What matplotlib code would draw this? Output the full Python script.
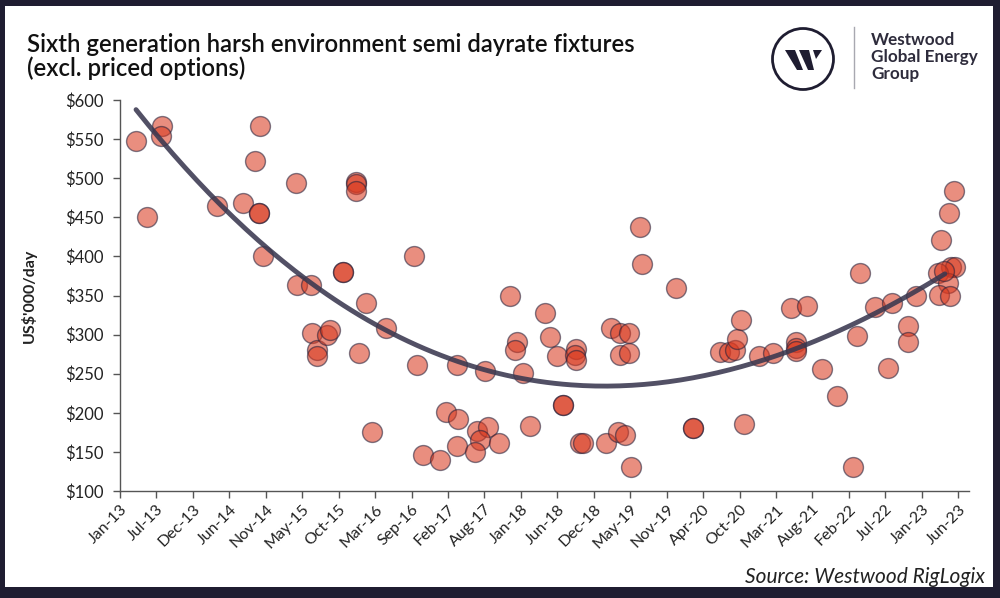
import matplotlib
matplotlib.use("Agg")
import matplotlib.pyplot as plt
import numpy as np
from matplotlib.patches import Circle, Polygon, Rectangle

plt.rcParams["font.family"] = ["Lato", "DejaVu Sans"]

# fixture dates as months after 1 Jan 2013, rates in US$'000/day
months = [
    2.39, 4.07, 6.22, 6.07, 14.51, 18.30, 20.88, 20.13, 20.77, 20.77,
    21.37, 26.24, 26.44, 28.44, 28.58, 29.33, 29.37, 30.82, 31.31, 33.21,
    33.21, 35.19, 35.19, 35.19, 36.68, 35.68, 39.66, 37.62, 43.84, 44.24,
    45.23, 47.72, 48.61, 50.44, 50.30, 50.21, 53.19, 54.92, 53.68, 52.93,
    56.56, 54.43, 58.15, 59.24, 58.90, 60.14, 61.14, 63.37, 64.12, 65.12,
    67.99, 67.85, 67.99, 66.01, 66.01, 68.59, 69.08, 72.47, 73.17, 74.56,
    75.94, 74.56, 75.94, 74.30, 75.30, 76.20, 77.54, 77.88, 82.91, 85.49,
    85.49, 89.46, 90.85, 91.70, 91.96, 92.55, 93.09, 95.33, 97.32, 100.01,
    102.48, 100.80, 100.80, 100.80, 104.63, 106.96, 109.25, 109.85, 110.34, 112.57,
    115.16, 114.56, 117.54, 117.46, 118.69, 122.38, 123.66, 124.36, 123.87, 124.51,
    122.02, 123.51, 122.17, 123.76, 122.87,
]
rates = [
    547, 450, 567, 554, 465, 468, 567, 522, 455, 455,
    400, 494, 364, 364, 302, 280, 273, 300, 306, 380,
    380, 495, 493, 483, 340, 276, 308, 176, 400, 261,
    146, 140, 201, 192, 261, 157, 177, 182, 165, 150,
    161, 253, 350, 290, 280, 251, 183, 327, 297, 273,
    282, 274, 267, 210, 210, 161, 161, 161, 309, 302,
    302, 274, 276, 176, 172, 131, 438, 390, 359, 181,
    181, 278, 278, 280, 295, 319, 186, 272, 277, 334,
    336, 291, 283, 279, 256, 221, 131, 298, 379, 335,
    341, 257, 311, 290, 350, 421, 456, 484, 387, 386,
    379, 366, 351, 349, 381,
]

tick_labels = [
    "Jan-13", "Jul-13", "Dec-13", "Jun-14", "Nov-14", "May-15", "Oct-15", "Mar-16",
    "Sep-16", "Feb-17", "Aug-17", "Jan-18", "Jun-18", "Dec-18", "May-19", "Nov-19",
    "Apr-20", "Oct-20", "Mar-21", "Aug-21", "Feb-22", "Jul-22", "Jan-23", "Jun-23",
]
y_ticks = [100, 150, 200, 250, 300, 350, 400, 450, 500, 550, 600]

navy = "#1f1d31"
ink = "#2e2c3c"

fig = plt.figure(figsize=(10, 5.98), dpi=100, facecolor=navy)

# background layer in pixel coordinates: white card, logo, divider
bg = fig.add_axes([0, 0, 1, 1], zorder=0)
bg.set_xlim(0, 1000)
bg.set_ylim(598, 0)
bg.axis("off")
bg.add_patch(Rectangle((5, 6), 988, 581, facecolor="white", edgecolor="none"))
bg.add_patch(Circle((803, 59), 30.5, facecolor="none", edgecolor=navy, lw=2.0))
for poly in [
    [(785, 50), (795, 50), (803, 70), (797, 70)],
    [(799, 50), (809, 50), (814, 70), (808, 70)],
    [(813, 50), (822, 50), (816, 59)],
]:
    bg.add_patch(Polygon(poly, closed=True, facecolor=navy, edgecolor="none"))
bg.plot([854, 854], [27, 88], color="#a8a8b0", lw=1.0)

fig.text(0.027, 1 - 44 / 598, "Sixth generation harsh environment semi dayrate fixtures",
         fontsize=17.2, fontweight="semibold", color="#111111", va="center")
fig.text(0.027, 1 - 68 / 598, "(excl. priced options)",
         fontsize=17.2, fontweight="semibold", color="#111111", va="center")
fig.text(0.871, 1 - 57 / 598, "Westwood\nGlobal Energy\nGroup", fontsize=12.3,
         fontweight="bold", color=ink, va="center", ha="left", linespacing=1.1)
fig.text(0.985, 1 - 577 / 598, "Source: Westwood RigLogix", fontsize=15,
         style="italic", color="#222222", ha="right", va="center")

ax = fig.add_axes([0.12, 1 - 491 / 598, 0.849, 391 / 598], zorder=1)
ax.set_facecolor("none")

ax.scatter(months, rates, s=205, facecolor="#d9381e", alpha=0.57,
           edgecolor="#23203a", linewidth=1.0, zorder=2)

coef = np.polyfit(months, rates, 3)
xs = np.linspace(min(months), max(months) - 1.5, 200)
ax.plot(xs, np.polyval(coef, xs), color="#3a3850", lw=3.5, alpha=0.88,
        solid_capstyle="round", zorder=3)

ax.set_xlim(0, 126.6)
ax.set_ylim(100, 600)
ax.set_xticks(np.linspace(0, 125, len(tick_labels)))
ax.set_xticklabels(tick_labels, rotation=45, ha="right", rotation_mode="anchor",
                   fontsize=11.5, color="#222222")
ax.set_yticks(y_ticks)
ax.set_yticklabels([f"${v}" for v in y_ticks], fontsize=12, color="#222222")
ax.tick_params(axis="both", direction="out", length=5, width=1.0, color="#555555")
ax.tick_params(axis="x", pad=3)
ax.tick_params(axis="y", pad=7)
ax.set_ylabel("US$'000/day", fontsize=11.5, fontweight="bold", color="#222222", labelpad=20)

for side in ["top", "right"]:
    ax.spines[side].set_visible(False)
for side in ["left", "bottom"]:
    ax.spines[side].set_color("#555555")
    ax.spines[side].set_linewidth(1.0)

fig.savefig("out.png", dpi=100, facecolor=navy)
